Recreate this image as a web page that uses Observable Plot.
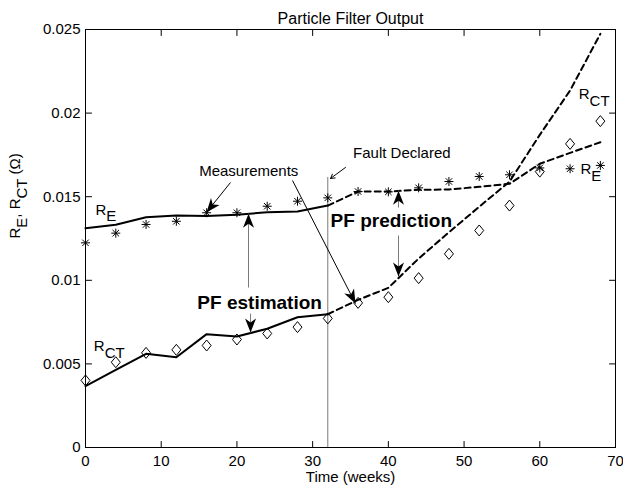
<!DOCTYPE html>
<html><head><meta charset="utf-8">
<script src="https://cdn.jsdelivr.net/npm/d3@7"></script>
<script src="https://cdn.jsdelivr.net/npm/@observablehq/plot@0.6"></script>
<style>body{margin:0;background:#fff;} svg{display:block}</style>
</head><body><div id="chart"></div>
<script>
// ---- data ----
const weeks        = [0, 4, 8, 12, 16, 20, 24, 28, 32, 36, 40, 44, 48, 52, 56, 60, 64, 68];
const reMeasured   = [0.01224, 0.01282, 0.01334, 0.01353, 0.01404, 0.01404, 0.01443, 0.01473, 0.01493, 0.01531, 0.01529, 0.01553, 0.01591, 0.01621, 0.01631, 0.01672, 0.01667, 0.01687];
const rctMeasured  = [0.00401, 0.00510, 0.00566, 0.00584, 0.00610, 0.00646, 0.00682, 0.00720, 0.00772, 0.00865, 0.00899, 0.01013, 0.01158, 0.01298, 0.01447, 0.01650, 0.01816, 0.01952];
const reEstimated  = [0.01312, 0.01332, 0.01377, 0.01388, 0.01385, 0.01392, 0.01407, 0.01411, 0.01447, 0.01531, 0.01531, 0.01541, 0.01543, 0.01559, 0.01577, 0.01697, 0.01762, 0.01826];
const rctEstimated = [0.00367, 0.00464, 0.00560, 0.00540, 0.00678, 0.00664, 0.00710, 0.00779, 0.00797, 0.00883, 0.00955, 0.01130, 0.01287, 0.01440, 0.01590, 0.01870, 0.02135, 0.02474];
const faultWeek = 32;
const faultLineTop = 0.01615;

const xTicks = [0, 10, 20, 30, 40, 50, 60, 70];
const xTickLabels = ["0", "10", "20", "30", "40", "50", "60", "70"];
const yTicks = [0, 0.005, 0.01, 0.015, 0.02, 0.025];
const yTickLabels = ["0", "0.005", "0.01", "0.015", "0.02", "0.025"];

const titleText = "Particle Filter Output";
const xLabel = "Time (weeks)";
const yLabel = "R_{E}, R_{CT} (Ω)";

// annotation texts (week, value)
const notes = [
  {text: "Measurements",   week: 21.56, value: 0.01654, bold: false},
  {text: "Fault Declared", week: 41.78, value: 0.01758, bold: false},
  {text: "PF estimation",  week: 23.0,  value: 0.00867, bold: true},
  {text: "PF prediction",  week: 40.39, value: 0.01353, bold: true}
];
const seriesLabels = [
  {text: "R_{E}",  week: 1.32,  value: 0.01421},
  {text: "R_{CT}", week: 1.10,  value: 0.00604},
  {text: "R_{CT}", week: 65.15, value: 0.02111},
  {text: "R_{E}",  week: 65.38, value: 0.01663}
];
// annotation arrows: from (week1,value1) to tip (week2,value2)
const arrows = [
  {week1: 19.15, value1: 0.01585, week2: 15.98, value2: 0.01406, gray: false},
  {week1: 27.34, value1: 0.01597, week2: 35.66, value2: 0.00861, gray: false},
  {week1: 21.53, value1: 0.00957, week2: 21.53, value2: 0.01398, gray: true},
  {week1: 21.80, value1: 0.00801, week2: 21.80, value2: 0.00688, gray: true},
  {week1: 41.34, value1: 0.01435, week2: 41.34, value2: 0.01536, gray: true},
  {week1: 41.34, value1: 0.01268, week2: 41.34, value2: 0.01022, gray: true}
];
const faultArrow = [{week1: 34.34, value1: 0.01675, week2: 32.36, value2: 0.01609}];

// ---- tables ----
const meas = weeks.map((w, i) => ({week: w, re: reMeasured[i], rct: rctMeasured[i]}));
const est = weeks.map((w, i) => ({week: w, re: reEstimated[i], rct: rctEstimated[i]}));
const estPast = est.filter(d => d.week <= faultWeek);
const estFuture = est.filter(d => d.week >= faultWeek);

// ---- symbols / shapes ----
const asteriskSym = {draw(ctx, size) {
  const r = Math.sqrt(size / Math.PI);
  const s = r * 0.72;
  ctx.moveTo(0, -r); ctx.lineTo(0, r);
  ctx.moveTo(-r, 0); ctx.lineTo(r, 0);
  ctx.moveTo(-s, -s); ctx.lineTo(s, s);
  ctx.moveTo(-s, s); ctx.lineTo(s, -s);
}};
const diamondSym = {draw(ctx, size) {
  const r = Math.sqrt(size / Math.PI);
  const h = r * 1.1, w = r * 0.9;
  ctx.moveTo(0, -h); ctx.lineTo(w, 0); ctx.lineTo(0, h); ctx.lineTo(-w, 0); ctx.closePath();
}};
const tickShape = {draw(ctx, l) { ctx.moveTo(0, 0); ctx.lineTo(0, -l); }};
const headShape = {draw(ctx, l) {
  const w = 5.5;
  ctx.moveTo(0, -l); ctx.lineTo(w, 0); ctx.lineTo(0, -l * 0.28); ctx.lineTo(-w, 0); ctx.closePath();
}};

const font = "'Liberation Sans', Arial, Helvetica, sans-serif";

const base = {
  width: 623, height: 493,
  marginTop: 29, marginLeft: 85, marginRight: 8, marginBottom: 46,
  x: {domain: [0, 70]},
  y: {domain: [0, 0.025]},
  style: {fontFamily: font, fontSize: "15px", background: "white", color: "black", overflow: "visible"}
};

// probe pass to get pixel scales for arrowhead directions
const probe = Plot.plot({...base, marks: [Plot.frame()]});
const sx = probe.scale("x"), sy = probe.scale("y");
const heads = arrows.map(a => {
  const dx = sx.apply(a.week2) - sx.apply(a.week1);
  const dy = sy.apply(a.value2) - sy.apply(a.value1);
  return {...a, angle: Math.atan2(dx, -dy) * 180 / Math.PI};
});

const chart = Plot.plot({
  ...base,
  marks: [
    // fault line
    Plot.ruleX([faultWeek], {y1: 0, y2: faultLineTop, stroke: "#7a7a7a", strokeWidth: 1}),
    // estimates
    Plot.line(estPast, {x: "week", y: "re", stroke: "black", strokeWidth: 2}),
    Plot.line(estPast, {x: "week", y: "rct", stroke: "black", strokeWidth: 2}),
    Plot.line(estFuture, {x: "week", y: "re", stroke: "black", strokeWidth: 2, strokeDasharray: "6,4"}),
    Plot.line(estFuture, {x: "week", y: "rct", stroke: "black", strokeWidth: 2, strokeDasharray: "6,4"}),
    // measurements
    Plot.dot(meas, {x: "week", y: "re", symbol: asteriskSym, r: 4.5, stroke: "black", strokeWidth: 1, fill: "none"}),
    Plot.dot(meas, {x: "week", y: "rct", symbol: diamondSym, r: 5, stroke: "black", strokeWidth: 1, fill: "none"}),
    // arrows
    Plot.link(heads, {x1: "week1", y1: "value1", x2: "week2", y2: "value2",
      stroke: d => d.gray ? "#7a7a7a" : "black", strokeWidth: 1}),
    Plot.vector(heads, {x: "week2", y: "value2", rotate: "angle", length: 14, anchor: "end",
      shape: headShape, fill: "black", stroke: "none"}),
    Plot.arrow(faultArrow, {x1: "week1", y1: "value1", x2: "week2", y2: "value2",
      stroke: "black", strokeWidth: 1, headLength: 7}),
    // annotation text
    Plot.text(notes.filter(d => !d.bold), {x: "week", y: "value", text: "text", fontSize: 15, fill: "black"}),
    Plot.text(notes.filter(d => d.bold), {x: "week", y: "value", text: "text", fontSize: 19, fontWeight: "bold", fill: "black"}),
    Plot.text(seriesLabels, {x: "week", y: "value", text: "text", textAnchor: "start", fontSize: 15, fill: "black"}),
    // frame + inward ticks
    Plot.frame({stroke: "black", strokeWidth: 1}),
    Plot.vector(xTicks.slice(1, -1), {x: d => d, frameAnchor: "bottom", length: 6, anchor: "start", rotate: 0, shape: tickShape, stroke: "black", strokeWidth: 1}),
    Plot.vector(xTicks.slice(1, -1), {x: d => d, frameAnchor: "top", length: 6, anchor: "start", rotate: 180, shape: tickShape, stroke: "black", strokeWidth: 1}),
    Plot.vector(yTicks.slice(1, -1), {y: d => d, frameAnchor: "left", length: 6, anchor: "start", rotate: 90, shape: tickShape, stroke: "black", strokeWidth: 1}),
    Plot.vector(yTicks.slice(1, -1), {y: d => d, frameAnchor: "right", length: 6, anchor: "start", rotate: -90, shape: tickShape, stroke: "black", strokeWidth: 1}),
    // axes (labels only)
    Plot.axisX({ticks: xTicks, tickFormat: (d, i) => xTickLabels[i], tickSize: 0, tickPadding: 8, label: null, fontSize: 15}),
    Plot.axisY({ticks: yTicks, tickFormat: (d, i) => yTickLabels[i], tickSize: 0, tickPadding: 5, label: null, fontSize: 15}),
    // titles
    Plot.text([titleText], {frameAnchor: "top", dy: -16.5, fontSize: 16, fill: "black"}),
    Plot.text([xLabel], {frameAnchor: "bottom", dy: 34, fontSize: 15, fill: "black"}),
    Plot.text([yLabel], {frameAnchor: "left", dx: -70, rotate: -90, fontSize: 15, fill: "black"})
  ]
});

// subscripts: turn "_{...}" into shifted tspans
d3.select(chart).selectAll("text").each(function() {
  const t = this.textContent;
  if (!t.includes("_{")) return;
  const parts = t.split(/_\{([^}]*)\}/);
  this.textContent = "";
  let cur = 0;
  parts.forEach((p, i) => {
    if (!p) return;
    const target = i % 2 === 1 ? 0.45 : 0;
    const ts = document.createElementNS("http://www.w3.org/2000/svg", "tspan");
    if (target !== cur) ts.setAttribute("dy", (target - cur) + "em");
    cur = target;
    ts.textContent = p;
    this.appendChild(ts);
  });
});

document.getElementById("chart").appendChild(chart);
</script>
</body></html>
